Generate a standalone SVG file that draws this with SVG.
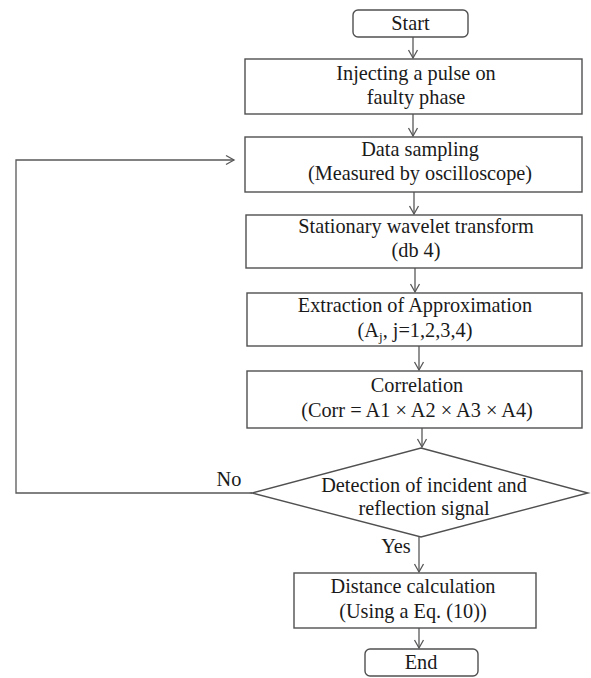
<svg xmlns="http://www.w3.org/2000/svg" width="591" height="678" viewBox="0 0 591 678">
<style>
.box{fill:#fff;stroke:#505050;stroke-width:1.4}
.t{font-family:"Liberation Serif","Times New Roman",serif;font-size:20.3px;fill:#1a1a1a;text-anchor:middle}
.c{fill:none;stroke:#585858;stroke-width:1.3}
</style>
<defs>
<marker id="ah" markerWidth="12" markerHeight="12" refX="9" refY="6" orient="auto" markerUnits="userSpaceOnUse">
<path d="M1,1.5 L9,6 L1,10.5" fill="none" stroke="#585858" stroke-width="1.3"/>
</marker>
</defs>
<rect width="591" height="678" fill="#fff"/>
<g id="connectors">
<line class="c" x1="413" y1="37" x2="413" y2="58" marker-end="url(#ah)"/>
<line class="c" x1="413" y1="114" x2="413" y2="136" marker-end="url(#ah)"/>
<line class="c" x1="414" y1="192" x2="414" y2="214" marker-end="url(#ah)"/>
<line class="c" x1="415" y1="268" x2="415" y2="292" marker-end="url(#ah)"/>
<line class="c" x1="419" y1="346" x2="419" y2="370" marker-end="url(#ah)"/>
<line class="c" x1="422" y1="428" x2="422" y2="447" marker-end="url(#ah)"/>
<line class="c" x1="419" y1="537" x2="419" y2="572" marker-end="url(#ah)"/>
<line class="c" x1="419" y1="628" x2="419" y2="648" marker-end="url(#ah)"/>
<polyline class="c" points="252,493 16,493 16,160 234,160" marker-end="url(#ah)"/>
<text class="t" x="229" y="486">No</text>
<text class="t" x="396" y="553">Yes</text>
</g>
<g id="start">
<rect class="box" x="353" y="10" width="115" height="27" rx="5"/>
<text class="t" x="410.5" y="30">Start</text>
</g>
<g id="inject">
<rect class="box" x="245" y="59" width="337" height="55"/>
<text class="t" x="416" y="80">Injecting a pulse on</text>
<text class="t" x="416" y="104">faulty phase</text>
</g>
<g id="sampling">
<rect class="box" x="245" y="137" width="337" height="55"/>
<text class="t" x="420" y="156">Data sampling</text>
<text class="t" x="420" y="180">(Measured by oscilloscope)</text>
</g>
<g id="swt">
<rect class="box" x="246" y="215" width="336" height="53"/>
<text class="t" x="416" y="233">Stationary wavelet transform</text>
<text class="t" x="416" y="257">(db 4)</text>
</g>
<g id="extraction">
<rect class="box" x="247" y="293" width="335" height="53"/>
<text class="t" x="415" y="312">Extraction of Approximation</text>
<text class="t" x="415" y="337">(A<tspan font-size="13" dy="4">j</tspan><tspan dy="-4">, j=1,2,3,4)</tspan></text>
</g>
<g id="correlation">
<rect class="box" x="247" y="371" width="335" height="57"/>
<text class="t" x="417" y="392">Correlation</text>
<text class="t" x="417" y="417">(Corr = A1 × A2 × A3 × A4)</text>
</g>
<g id="decision">
<polygon class="box" points="421,448 588,493 421,537 252,493"/>
<text class="t" x="424" y="492">Detection of incident and</text>
<text class="t" x="424" y="515">reflection signal</text>
</g>
<g id="distance">
<rect class="box" x="294" y="573" width="242" height="55"/>
<text class="t" x="413" y="593">Distance calculation</text>
<text class="t" x="413" y="618">(Using a Eq. (10))</text>
</g>
<g id="end">
<rect class="box" x="365" y="649" width="113" height="27" rx="5"/>
<text class="t" x="421" y="669">End</text>
</g>
</svg>
